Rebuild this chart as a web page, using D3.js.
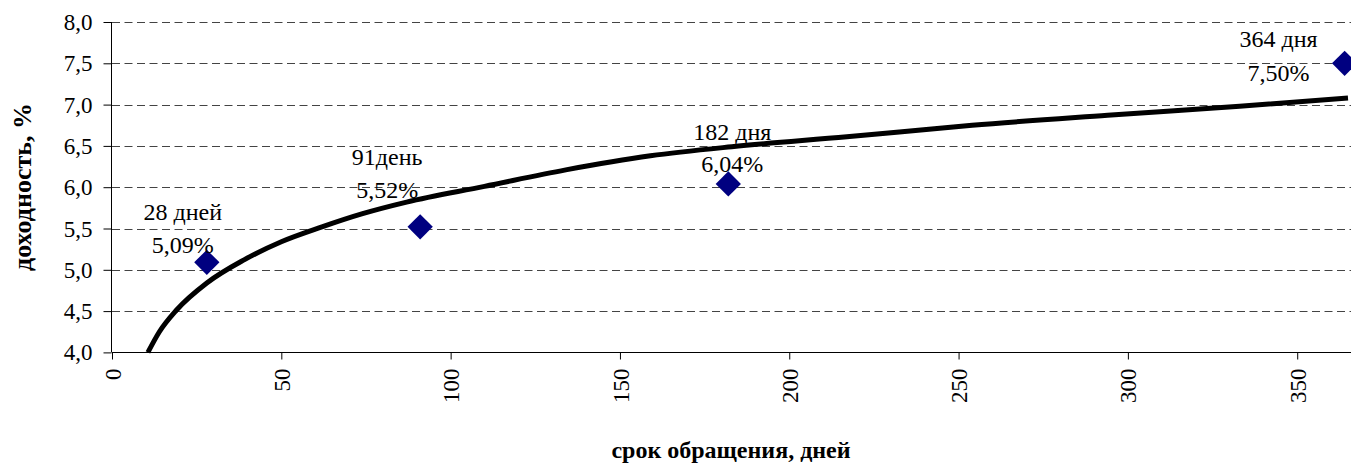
<!DOCTYPE html>
<html lang="ru">
<head>
<meta charset="UTF-8" />
<title>Доходность</title>
<script src="https://cdn.jsdelivr.net/npm/d3@7/dist/d3.min.js"></script>
<style>
  body { margin: 0; background: #fff; }
  svg text { font-family: "Liberation Serif", "Times New Roman", serif; fill: #000; }
</style>
</head>
<body>
<script>
// points: term (days) and yield (%)
var pointDays = [28, 91, 182, 364];
var pointYield = [5.09, 5.52, 6.04, 7.50];
var pointNames = ["28 дней", "91день", "182 дня", "364 дня"];

// trend curve
var curveDays = [10.6, 14, 19, 28, 39, 50, 62, 74, 87, 110, 134, 159, 183, 217, 254, 294, 333, 365];
var curveYield = [4.0, 4.25, 4.51, 4.84, 5.12, 5.34, 5.52, 5.68, 5.82, 6.01, 6.21, 6.38, 6.49, 6.61, 6.75, 6.87, 6.98, 7.08];

var xTicks = [0, 50, 100, 150, 200, 250, 300, 350];
var yTicks = [4.0, 4.5, 5.0, 5.5, 6.0, 6.5, 7.0, 7.5, 8.0];

var w = 1351, h = 463;
var pLeft = 112, pRight = 1348, pTop = 22, pBottom = 352.4;
var serif = '"Liberation Serif", "Times New Roman", serif';

// label offsets (px) relative to each point: [dx, dy line1, dy line2]
var labelOff = [[-24, -42, -9], [-33, -62, -29], [4, -44, -12], [-66, -16, 18]];

var svg = d3.select("body").append("svg").attr("width", w).attr("height", h);

var x = d3.scaleLinear().domain([0, 365]).range([pLeft, pRight]);
var y = d3.scaleLinear().domain([4, 8]).range([pBottom, pTop]);

var comma = function(v, n) { return v.toFixed(n).replace(".", ","); };

// grid
svg.append("g").selectAll("line")
  .data(yTicks.filter(function(d) { return d > 4; }))
  .enter().append("line")
  .attr("x1", pLeft).attr("x2", w)
  .attr("y1", function(d) { return Math.round(y(d)) + 0.5; })
  .attr("y2", function(d) { return Math.round(y(d)) + 0.5; })
  .attr("stroke", "#444").attr("stroke-width", 1)
  .attr("stroke-dasharray", "8,4.5");

// y axis
var yAxis = d3.axisLeft(y).tickValues(yTicks).tickSize(8).tickPadding(11)
  .tickFormat(function(d) { return comma(d, 1); });
var gy = svg.append("g").attr("transform", "translate(" + (pLeft - 0.5) + ",0)").call(yAxis);
gy.attr("font-family", serif);
gy.select(".domain").attr("stroke", "#000").attr("d", "M0," + pTop + "V" + pBottom);
gy.selectAll(".tick line").attr("stroke", "#000");
gy.selectAll("text").style("font-family", serif).style("font-size", "23px").attr("dy", "0.33em");

// x axis
var xAxis = d3.axisBottom(x).tickValues(xTicks).tickSize(7).tickFormat(d3.format("d"));
var gx = svg.append("g").attr("transform", "translate(0," + (Math.round(pBottom) + 0.5) + ")").call(xAxis);
gx.attr("font-family", serif);
gx.select(".domain").attr("stroke", "#000").attr("d", "M" + pLeft + ",0H" + w);
gx.selectAll(".tick line").attr("stroke", "#000");
gx.selectAll("text")
  .style("font-family", serif)
  .style("font-size", "23px")
  .attr("text-anchor", "end")
  .attr("transform", "rotate(-90)")
  .attr("x", -16).attr("y", 0).attr("dy", "0.35em");

// trend line
var line = d3.line()
  .x(function(d) { return x(d[0]); })
  .y(function(d) { return y(d[1]); })
  .curve(d3.curveMonotoneX);
svg.append("path")
  .datum(d3.zip(curveDays, curveYield))
  .attr("d", line)
  .attr("fill", "none")
  .attr("stroke", "#000")
  .attr("stroke-width", 5);

// markers
var pts = d3.zip(pointDays, pointYield);
svg.append("g").selectAll("path")
  .data(pts)
  .enter().append("path")
  .attr("d", d3.symbol(d3.symbolSquare, 320))
  .attr("transform", function(d) { return "translate(" + x(d[0]) + "," + y(d[1]) + ") rotate(45)"; })
  .attr("fill", "#000080");

// labels
var lab = svg.append("g").selectAll("g").data(pts).enter().append("g");
lab.append("text")
  .attr("x", function(d, i) { return x(d[0]) + labelOff[i][0]; })
  .attr("y", function(d, i) { return y(d[1]) + labelOff[i][1]; })
  .attr("text-anchor", "middle").style("font-size", "24px")
  .text(function(d, i) { return pointNames[i]; });
lab.append("text")
  .attr("x", function(d, i) { return x(d[0]) + labelOff[i][0]; })
  .attr("y", function(d, i) { return y(d[1]) + labelOff[i][2]; })
  .attr("text-anchor", "middle").style("font-size", "24px")
  .text(function(d) { return comma(d[1], 2) + "%"; });

// axis titles
svg.append("text")
  .text("срок обращения, дней")
  .attr("x", 731).attr("y", 458)
  .attr("text-anchor", "middle")
  .style("font-size", "24px").style("font-weight", "bold");
svg.append("text")
  .text("доходность, %")
  .attr("text-anchor", "middle")
  .attr("transform", "translate(31,187) rotate(-90)")
  .style("font-size", "26px").style("font-weight", "bold");
</script>
</body>
</html>
